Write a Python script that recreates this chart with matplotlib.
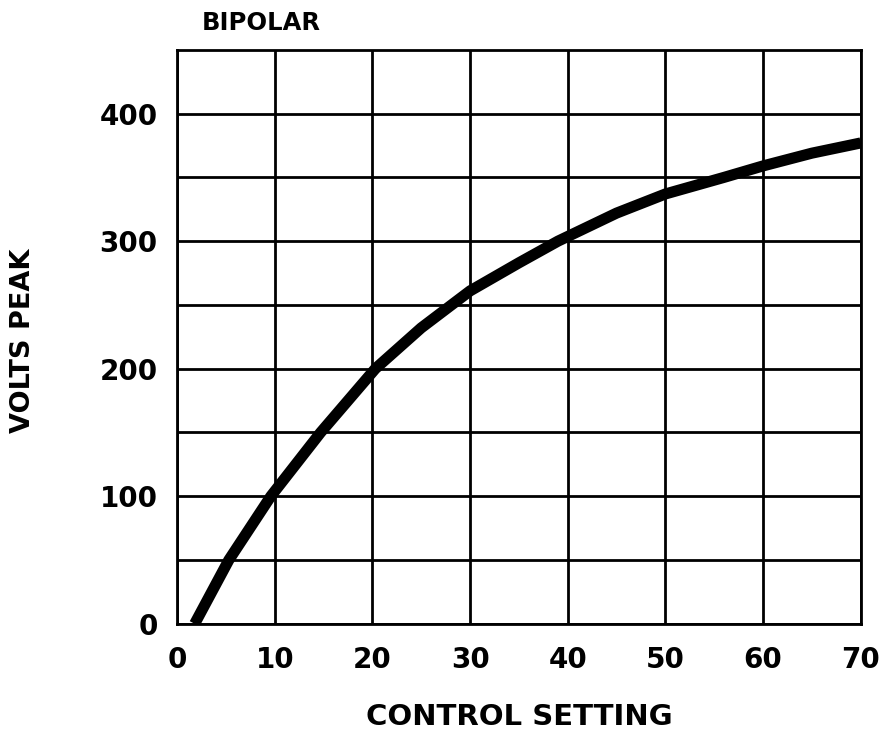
import matplotlib.pyplot as plt
import numpy as np

# values
setting = [1.8, 5.3, 9.6, 14.7, 20.3, 25, 28.1, 30, 35, 39, 45, 50, 56, 60, 65, 70]
volts = [0, 50, 100, 150, 200, 232, 250, 261, 283, 300, 322, 337, 350, 359, 369, 377]

x_ticks = [0, 10, 20, 30, 40, 50, 60, 70]
y_ticks = [0, 100, 200, 300, 400]

plt.rcParams['font.family'] = ['DejaVu Sans']
plt.rcParams['font.weight'] = 'bold'

fig = plt.figure(figsize=(8.81, 7.33), dpi=100)
ax = fig.add_axes([0.201, 0.149, 0.776, 0.783])

ax.plot(setting, volts, color='black', lw=8, solid_capstyle='butt',
        solid_joinstyle='round')

ax.set_xlim(0, 70)
ax.set_ylim(0, 450)
ax.set_xticks(x_ticks)
ax.set_yticks(y_ticks)
ax.set_yticks(np.arange(50, 450, 100), minor=True)
ax.grid(True, which='both', color='black', lw=2)
ax.set_axisbelow(True)
ax.tick_params(which='both', length=0)
ax.tick_params(axis='x', pad=16, labelsize=20)
ax.tick_params(axis='y', pad=14, labelsize=20)
for s in ax.spines.values():
    s.set_linewidth(2)

fig.text(0.229, 0.959, 'BIPOLAR', fontsize=17.5, fontweight='bold')
fig.text(0.590, 0.011, 'CONTROL SETTING', fontsize=21, fontweight='bold', ha='center')
fig.text(0.026, 0.535, 'VOLTS PEAK', fontsize=19.5, fontweight='bold', rotation=90,
         ha='center', va='center')

fig.savefig('out.png', dpi=100)
